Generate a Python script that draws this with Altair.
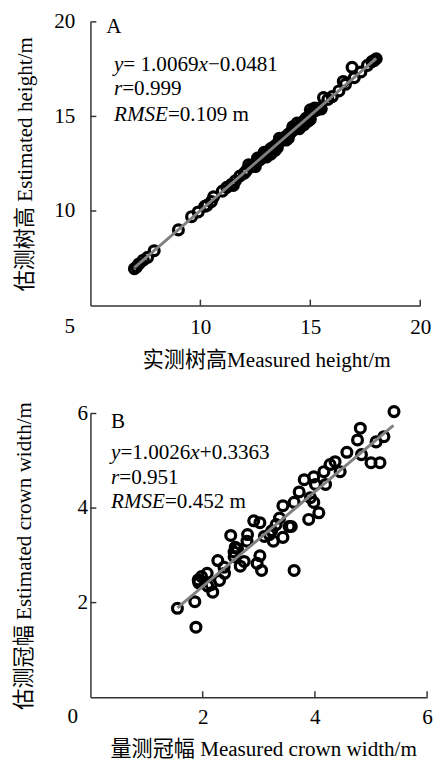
import altair as alt
import pandas as pd

# ---------------- data ----------------
# Panel A: tree height (m)
a_measured = [7.0, 7.1, 7.2, 7.4, 7.6, 7.9, 9.0, 9.6, 9.9, 10.2, 10.3, 10.5, 11.0, 11.2,
              11.4, 11.6, 11.8, 12.0, 12.1, 12.3, 12.4, 12.6, 12.7, 12.8, 12.9, 13.0, 13.1,
              13.2, 13.3, 13.4, 13.5, 13.6, 13.7, 13.8, 13.9, 14.0, 14.1, 14.2, 14.3, 14.4,
              14.5, 14.6, 14.7, 14.8, 14.9, 15.0, 15.1, 15.2, 15.3, 15.4, 15.6, 15.8, 16.0,
              16.3, 16.5, 16.6, 16.9, 17.0, 17.3, 17.6, 17.8, 17.9, 18.0,
              12.5, 13.0, 13.5, 14.0, 14.5, 15.0, 15.5,
              12.2, 12.6, 13.2, 13.6, 13.9, 14.2, 14.7, 15.2, 12.9, 13.4, 14.4, 14.9, 10.6, 11.5]
a_estimated = [6.95, 7.05, 7.20, 7.40, 7.55, 7.90, 9.00, 9.70, 9.95, 10.25, 10.30, 10.50, 11.05, 11.25,
               11.40, 11.60, 11.85, 12.00, 12.15, 12.35, 12.40, 12.65, 12.70, 12.85, 12.95, 13.05, 13.10,
               13.30, 13.35, 13.45, 13.55, 13.65, 13.75, 13.85, 13.95, 14.05, 14.15, 14.25, 14.35, 14.45,
               14.55, 14.65, 14.75, 14.90, 14.95, 15.35, 15.25, 15.30, 15.35, 15.45, 16.00, 15.90, 16.05,
               16.35, 16.85, 16.70, 17.60, 17.05, 17.35, 17.70, 17.90, 17.95, 18.05,
               12.35, 12.85, 13.35, 13.85, 14.35, 14.85, 15.40,
               12.45, 12.80, 13.00, 13.85, 13.75, 14.45, 14.55, 15.45, 13.10, 13.20, 14.65, 14.75, 10.75, 11.35]

# Panel B: crown width (m)
b_measured = [1.55, 1.86, 1.88, 1.93, 1.98, 2.08, 2.18, 2.15, 2.30, 2.27, 2.39, 2.56, 2.56,
              2.74, 2.97, 3.05, 3.02, 3.63, 2.50, 2.80, 2.62, 2.91, 3.02, 3.19, 3.23, 3.26,
              3.43, 3.31, 3.54, 3.37, 3.43, 3.63, 3.72, 3.81, 3.92, 3.98, 4.07, 3.89, 3.98,
              4.01, 4.16, 4.19, 4.27, 4.36, 4.45, 4.57, 4.76, 4.81, 4.83, 5.00, 5.16, 5.09,
              5.23, 5.41, 2.58, 2.79, 2.67, 2.09, 1.92, 3.58, 2.38, 3.10]
b_estimated = [1.88, 2.02, 1.48, 2.42, 2.55, 2.62, 2.22, 2.38, 2.47, 2.89, 2.62, 3.07, 2.97,
               2.87, 2.83, 2.68, 2.99, 2.68, 3.42, 3.44, 3.14, 3.73, 3.69, 3.44, 3.52, 3.30,
               3.38, 3.65, 3.61, 3.79, 4.05, 4.12, 4.34, 4.60, 4.22, 4.12, 3.90, 3.76, 4.66,
               4.50, 4.77, 4.50, 4.92, 4.98, 4.77, 5.18, 5.44, 5.69, 5.13, 4.96, 4.96, 5.40,
               5.51, 6.04, 3.17, 3.30, 2.77, 2.35, 2.48, 3.61, 2.75, 3.40]

A_SLOPE, A_INTERCEPT = 1.0069, -0.0481
B_SLOPE, B_INTERCEPT = 1.0026, 0.3363
a_line_x = [7.0, 18.0]
b_line_x = [1.55, 5.4]

a_domain = [5, 20]
b_domain = [0, 6]
a_ticks = [10, 15, 20]
b_ticks = [2, 4, 6]

# ---------------- style ----------------
FONT = "Liberation Serif, Noto Sans CJK SC"
FS = 21.5
TFS = 21.5
AXIS_COLOR = "#333333"
TICK_LEN = 6

W_REG = {"0": .5, "1": .5, "2": .5, "3": .5, "4": .5, "5": .5, "6": .5, "7": .5, "8": .5,
         "9": .5, ".": .25, "=": .564, "+": .564, "\u2212": .564, " ": .25, "m": .778}
W_IT = {"y": .444, "x": .444, "r": .389, "R": .611, "M": .833, "S": .5, "E": .611}


def seg_width(text, italic):
    table = W_IT if italic else W_REG
    return sum(table.get(c, .5) for c in text) * FS


def annotation_layers(lines, left, ys):
    layers = []
    for parts, yv in zip(lines, ys):
        off = 0.0
        for text, italic in parts:
            layers.append(
                alt.Chart(pd.DataFrame({"t": [text]})).mark_text(
                    align="left", baseline="middle", font=FONT, fontSize=FS,
                    fontStyle="italic" if italic else "normal", color="black",
                ).encode(x=alt.value(left + off), y=alt.value(yv), text="t:N")
            )
            off += seg_width(text, italic)
    return layers


def panel(meas, est, slope, intercept, line_x, dom, ticks, corner, w, h,
          xtitle, ytitle, letter, lines, ylab_pad, xlab_pad, ytx, xtx, xty,
          letter_pos, ann_left, ann_ys, corner_off):
    pts = pd.DataFrame({"m": meas, "e": est})
    xs = alt.Scale(domain=dom, nice=False, zero=False)
    ys = alt.Scale(domain=dom, nice=False, zero=False)
    xaxis = alt.Axis(values=ticks, ticks=False, grid=False, domainColor=AXIS_COLOR,
                     domainWidth=1.5, labelPadding=xlab_pad, labelFont=FONT, labelFontSize=FS,
                     labelColor="black", labelFlush=False, labelOverlap=False,
                     title=xtitle, titleFont=FONT, titleFontSize=TFS, titleFontWeight="normal",
                     titleColor="black", titleX=xtx, titleY=xty, titleBaseline="middle",
                     titleAlign="center")
    yaxis = alt.Axis(values=ticks, ticks=False, grid=False, domainColor=AXIS_COLOR,
                     domainWidth=1.5, labelPadding=ylab_pad, labelFont=FONT, labelFontSize=FS,
                     labelColor="black", labelFlush=False, labelOverlap=False,
                     title=ytitle, titleFont=FONT, titleFontSize=TFS, titleFontWeight="normal",
                     titleColor="black", titleX=ytx, titleBaseline="middle", titleAngle=270)

    def X():
        return alt.X("m:Q", scale=xs, axis=xaxis)

    def Y():
        return alt.Y("e:Q", scale=ys, axis=yaxis)

    points = alt.Chart(pts).mark_point(
        shape="circle", filled=False, color="black", strokeWidth=3.3, size=100, opacity=1
    ).encode(x=X(), y=Y())

    fit = alt.Chart(pd.DataFrame({"m": line_x})).transform_calculate(
        e=f"{slope} * datum.m + ({intercept})"
    ).mark_line(color="#808080", strokeWidth=3).encode(x=X(), y=Y())

    xt = alt.Chart(pd.DataFrame({"m": ticks})).mark_rule(
        color=AXIS_COLOR, strokeWidth=1.5
    ).encode(x=X(), y=alt.value(h), y2=alt.value(h - TICK_LEN))

    yt = alt.Chart(pd.DataFrame({"e": ticks})).mark_rule(
        color=AXIS_COLOR, strokeWidth=1.5
    ).encode(y=Y(), x=alt.value(0), x2=alt.value(TICK_LEN))

    corner_lbl = alt.Chart(pd.DataFrame({"t": [corner]})).mark_text(
        font=FONT, fontSize=FS, color="black", align="center", baseline="middle"
    ).encode(x=alt.value(corner_off[0]), y=alt.value(h + corner_off[1]), text="t:N")

    letter_lbl = alt.Chart(pd.DataFrame({"t": [letter]})).mark_text(
        font=FONT, fontSize=FS, color="black", align="left", baseline="middle"
    ).encode(x=alt.value(letter_pos[0]), y=alt.value(letter_pos[1]), text="t:N")

    layers = [points, fit, xt, yt, corner_lbl, letter_lbl] + annotation_layers(lines, ann_left, ann_ys)
    return alt.layer(*layers).properties(width=w, height=h)


IT, RG = True, False
lines_a = [
    [("y", IT), ("= 1.0069", RG), ("x", IT), ("\u22120.0481", RG)],
    [("r", IT), ("=0.999", RG)],
    [("RMSE", IT), ("=0.109 m", RG)],
]
lines_b = [
    [("y", IT), ("=1.0026", RG), ("x", IT), ("+0.3363", RG)],
    [("r", IT), ("=0.951", RG)],
    [("RMSE", IT), ("=0.452 m", RG)],
]

pa = panel(a_measured, a_estimated, A_SLOPE, A_INTERCEPT, a_line_x, a_domain, a_ticks, "5",
           336, 289, "实测树高Measured height/m", "估测树高 Estimated height/m", "A", lines_a,
           ylab_pad=16, xlab_pad=12, ytx=-66, xtx=179, xty=56,
           letter_pos=(16, 5), ann_left=24, ann_ys=[44, 69, 95], corner_off=(-21, 22))

pb = panel(b_measured, b_estimated, B_SLOPE, B_INTERCEPT, b_line_x, b_domain, b_ticks, "0",
           343, 289, "量测冠幅 Measured crown width/m", "估测冠幅 Estimated crown width/m", "B", lines_b,
           ylab_pad=3, xlab_pad=10, ytx=-67, xtx=176, xty=53,
           letter_pos=(21, 9), ann_left=21, ann_ys=[40, 66, 90], corner_off=(-18, 20))

chart = alt.vconcat(pa, pb, spacing=29).properties(
    padding={"top": -4, "left": 5, "right": 0, "bottom": 0},
    background="white",
).configure_view(strokeWidth=0)

chart.save("out.html", embed_options={"renderer": "svg", "actions": False})
